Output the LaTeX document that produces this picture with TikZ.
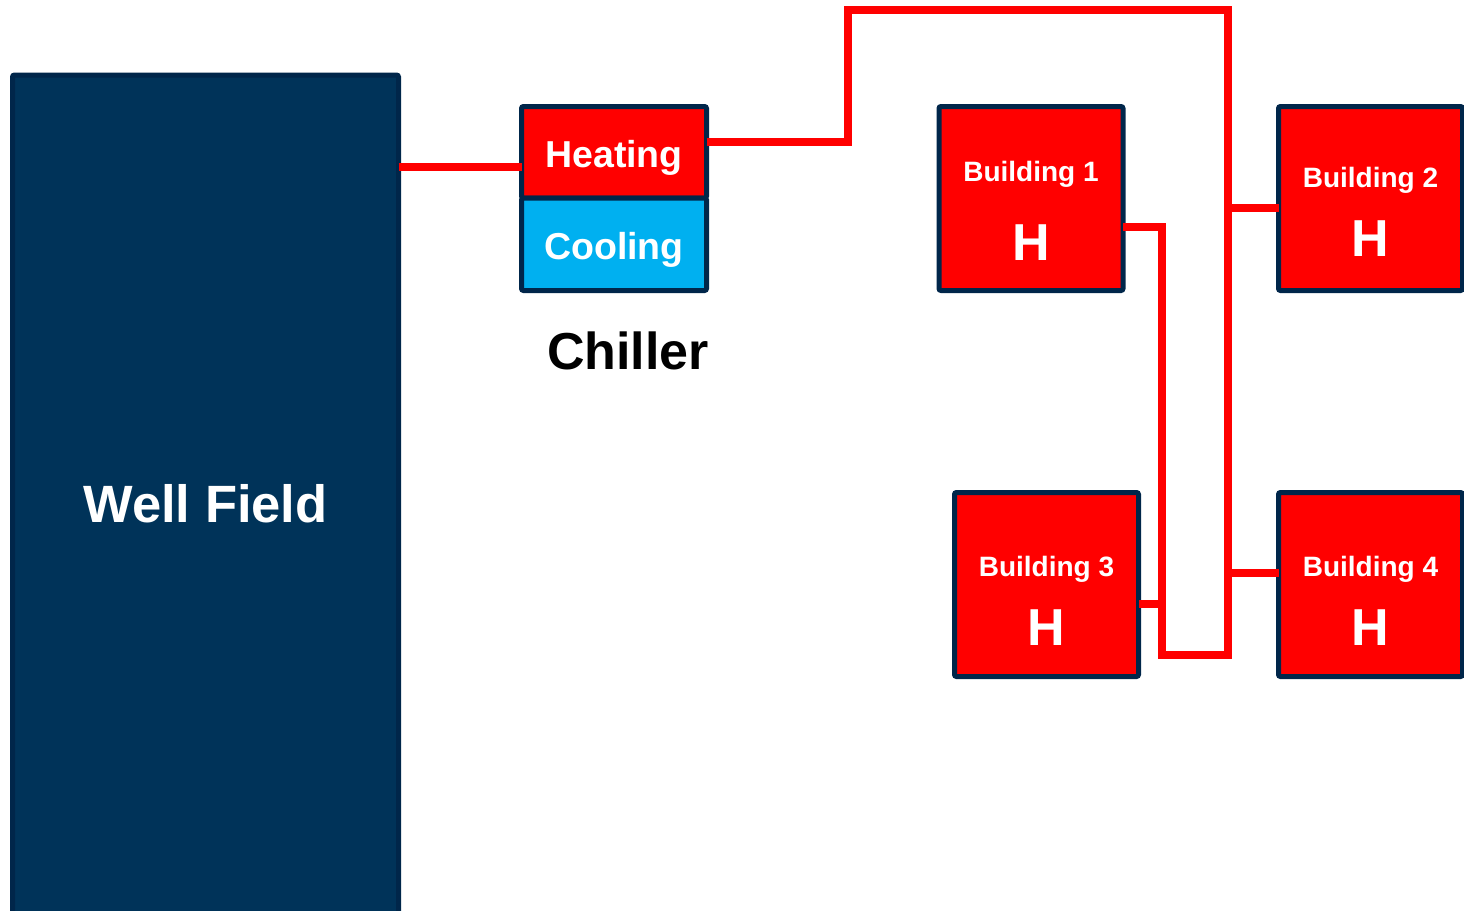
\documentclass[tikz,border=0pt]{standalone}
\usepackage{fontspec}
\setmainfont{Liberation Sans}
\definecolor{wfblue}{HTML}{003359}
\definecolor{edgeblue}{HTML}{00264A}
\definecolor{pipered}{HTML}{FF0000}
\definecolor{coolblue}{HTML}{00B0F0}
\tikzset{
  box/.style={draw=edgeblue, line width=5pt, rounded corners=2pt, inner sep=0pt, outer sep=0pt},
  bldg/.style={box, fill=pipered, minimum width=184pt, minimum height=184pt},
  pipe/.style={draw=pipered, line width=7.5pt},
  btext/.style={text=white, font=\bfseries\fontsize{28}{30}\selectfont, inner sep=0pt},
  htext/.style={text=white, font=\bfseries\fontsize{52}{56}\selectfont, inner sep=0pt},
}
\begin{document}
\begin{tikzpicture}[x=1pt, y=-1pt]
\useasboundingbox (0,0) rectangle (1464,910);
% Well field
\node[box, fill=wfblue, minimum width=386pt, minimum height=840pt] (wf) at (205.5,495) {};
\node[text=white, font=\bfseries\fontsize{52.5}{56}\selectfont, inner sep=0pt] (wft) at (205.5,504) {Well Field};
% Chiller
\node[box, fill=pipered, minimum width=185pt, minimum height=91.5pt] (heat) at (614,152.25) {};
\node[box, fill=coolblue, minimum width=185pt, minimum height=92.5pt] (cool) at (614,244.25) {};
\node[text=white, font=\bfseries\fontsize{37.5}{40}\selectfont, inner sep=0pt] (heatt) at (614,158) {Heating};
\node[text=white, font=\bfseries\fontsize{37.5}{40}\selectfont, inner sep=0pt] (coolt) at (614,250) {Cooling};
\node[text=black, font=\bfseries\fontsize{52}{56}\selectfont, inner sep=0pt] (chl) at (628,351) {Chiller};
% Buildings
\node[bldg] (b1) at (1031,198.5) {};
\node[bldg] (b2) at (1370.5,198.5) {};
\node[bldg] (b3) at (1046.5,584.5) {};
\node[bldg] (b4) at (1370.5,584.5) {};
\node[btext] (b1t) at (1031,174) {Building 1};
\node[htext] (b1h) at (1031,243) {H};
\node[btext] (b2t) at (1370.5,180) {Building 2};
\node[htext] (b2h) at (1370.5,239) {H};
\node[btext] (b3t) at (1046.5,569) {Building 3};
\node[htext] (b3h) at (1046.5,628) {H};
\node[btext] (b4t) at (1370.5,569) {Building 4};
\node[htext] (b4h) at (1370.5,628) {H};
% pipe coordinates
\coordinate (y167) at (0,167);
\coordinate (y142) at (0,142);
\coordinate (c1) at (848,142);
\coordinate (c2) at (848,10);
\coordinate (c3) at (1228,10);
\coordinate (c4) at (1228,655);
\coordinate (c5) at (1162,655);
\coordinate (c6) at (1162,227);
\coordinate (j2) at (1228,208);
\coordinate (j4) at (1228,573);
\coordinate (j3) at (1162,604);
% pipes
\draw[pipe] (wf.east |- y167) -- (heat.west |- y167);
\draw[pipe] (heat.east |- y142) -- (c1) -- (c2) -- (c3) -- (c4) -- (c5) -- (c6) -- (b1.east |- c6);
\draw[pipe] (j2) -- (b2.west |- j2);
\draw[pipe] (j4) -- (b4.west |- j4);
\draw[pipe] (j3) -- (b3.east |- j3);
\end{tikzpicture}
\end{document}
